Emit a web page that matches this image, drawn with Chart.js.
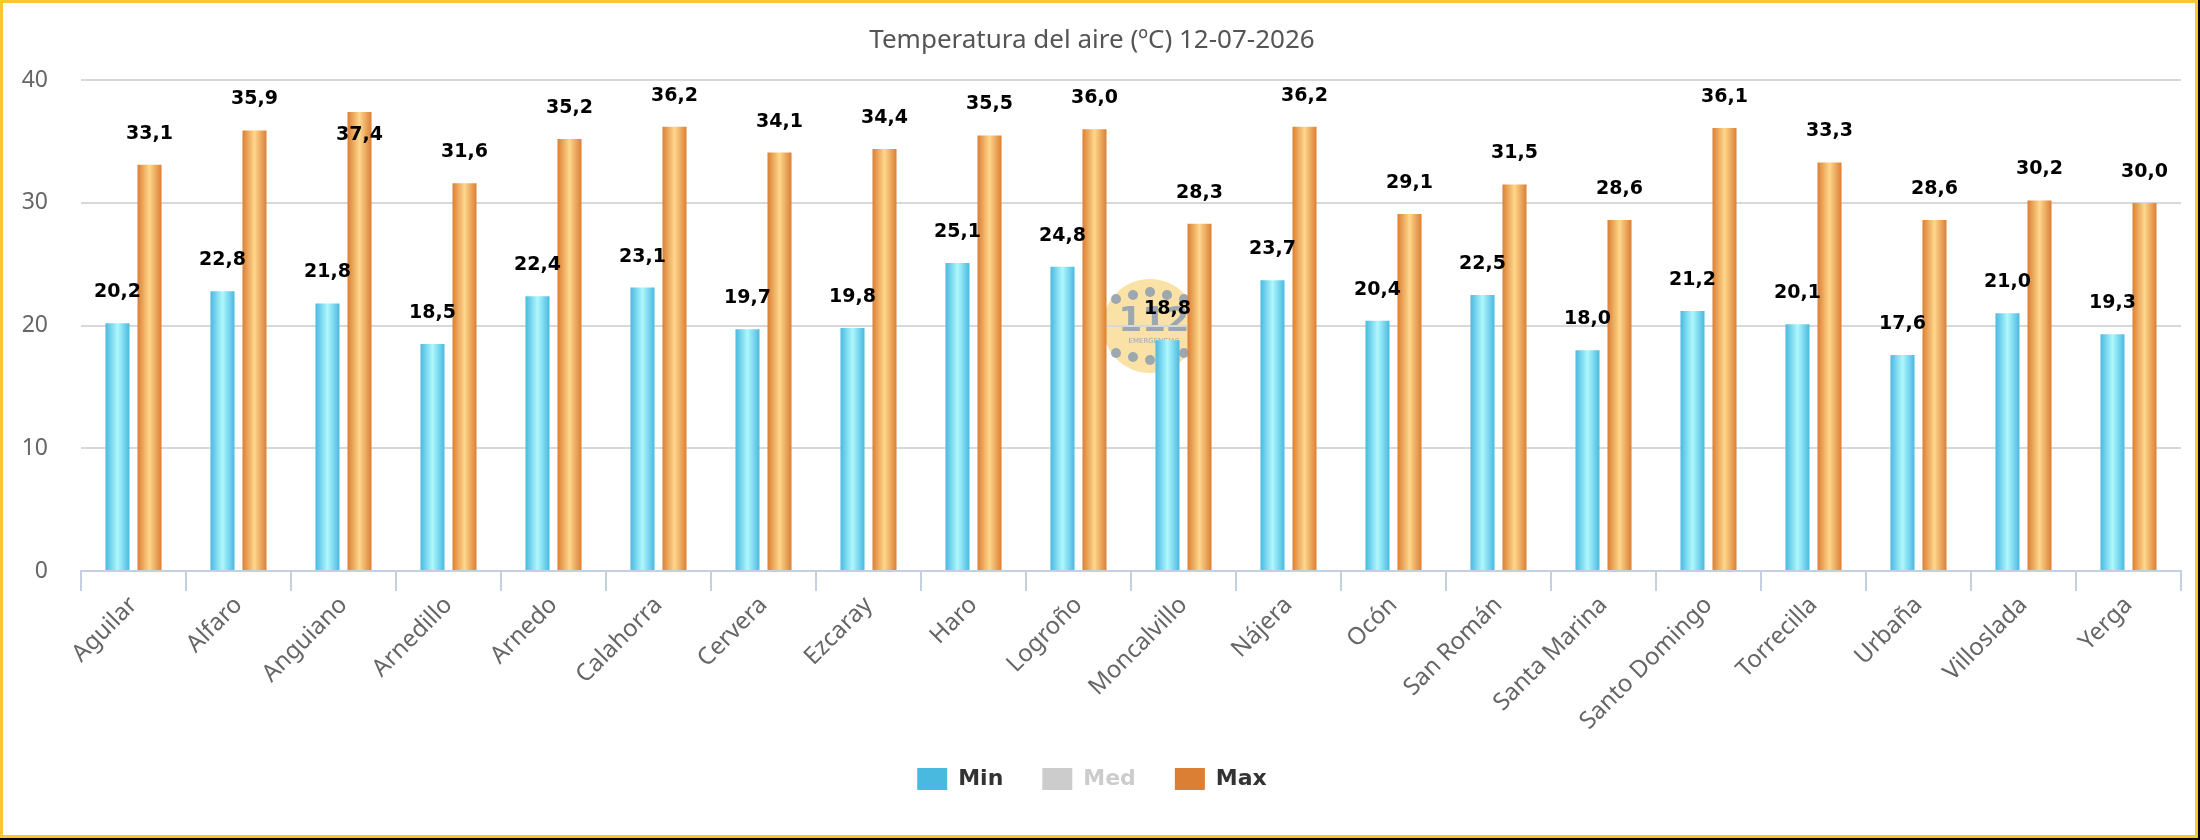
<!DOCTYPE html>
<html>
<head>
<meta charset="utf-8">
<script src="https://cdn.jsdelivr.net/npm/chart.js@4.4.1/dist/chart.umd.min.js"></script>
<style>
  html, body { margin: 0; padding: 0; background: #000; }
  #box { position: absolute; left: 0; top: 0; width: 2198px; height: 838px; box-sizing: border-box; border: 3px solid #fdc530; background: #fff; }
  #box canvas { display: block; }
</style>
</head>
<body>
<div id="box"><canvas id="chart" width="2192" height="832"></canvas></div>
<script>
// data
const categories = ['Aguilar', 'Alfaro', 'Anguiano', 'Arnedillo', 'Arnedo', 'Calahorra', 'Cervera', 'Ezcaray', 'Haro', 'Logroño',
  'Moncalvillo', 'Nájera', 'Ocón', 'San Román', 'Santa Marina', 'Santo Domingo', 'Torrecilla', 'Urbaña', 'Villoslada', 'Yerga'];
const minValues = [20.2, 22.8, 21.8, 18.5, 22.4, 23.1, 19.7, 19.8, 25.1, 24.8, 18.8, 23.7, 20.4, 22.5, 18.0, 21.2, 20.1, 17.6, 21.0, 19.3];
const medValues = []; // series hidden in the picture
const maxValues = [33.1, 35.9, 37.4, 31.6, 35.2, 36.2, 34.1, 34.4, 35.5, 36.0, 28.3, 36.2, 29.1, 31.5, 28.6, 36.1, 33.3, 28.6, 30.2, 30.0];
const seriesNames = ['Min', 'Med', 'Max'];
const yTicks = [0, 10, 20, 30, 40];
const titleText = 'Temperatura del aire (ºC) 12-07-2026';

// colours
const edges = ['#4ab9e0', '#cccccc', '#db7f34'];
const mids = ['#aef8fd', '#cccccc', '#fed78c'];

function barGradient(ctx, left, right, edge, mid) {
  const g = ctx.createLinearGradient(left, 0, right, 0);
  g.addColorStop(0, edge);
  g.addColorStop(0.5, mid);
  g.addColorStop(1, edge);
  return g;
}

const fmt = v => v.toFixed(1).replace('.', ',');

// horizontal shading of each bar
const barShade = {
  id: 'barShade',
  beforeDatasetsDraw(chart) {
    chart.data.datasets.forEach((ds, i) => {
      if (!chart.isDatasetVisible(i)) return;
      chart.getDatasetMeta(i).data.forEach(bar => {
        bar.options.backgroundColor = barGradient(chart.ctx, bar.x - bar.width / 2, bar.x + bar.width / 2, edges[i], mids[i]);
      });
    });
  }
};

// value labels above bars
const valueLabels = {
  id: 'valueLabels',
  afterDatasetsDraw(chart) {
    const ctx = chart.ctx;
    ctx.save();
    ctx.font = 'bold 19px "DejaVu Sans"';
    ctx.fillStyle = '#000';
    ctx.textAlign = 'center';
    ctx.textBaseline = 'middle';
    chart.data.datasets.forEach((ds, i) => {
      if (!chart.isDatasetVisible(i)) return;
      chart.getDatasetMeta(i).data.forEach((bar, j) => {
        let y = bar.y - 31;
        if (y - 9 < chart.chartArea.top) y = bar.y + 23;
        ctx.fillText(fmt(ds.data[j]), bar.x, y);
      });
    });
    ctx.restore();
  }
};

// faint "112" watermark behind the plot
const watermark = {
  id: 'watermark',
  beforeDraw(chart) {
    const ctx = chart.ctx;
    const cx = 1147, cy = 323, r = 47;
    ctx.save();
    ctx.fillStyle = 'rgba(247, 205, 105, 0.6)';
    ctx.beginPath();
    ctx.arc(cx, cy, r, 0, Math.PI * 2);
    ctx.fill();
    ctx.fillStyle = 'rgba(140, 158, 178, 0.85)';
    [-34, -17, 0, 17, 34].forEach((dx, k) => {
      const dy = (k === 0 || k === 4) ? 4 : (k === 2 ? -3 : 0);
      ctx.beginPath(); ctx.arc(cx + dx, cy - 31 + dy, 5, 0, Math.PI * 2); ctx.fill();
      ctx.beginPath(); ctx.arc(cx + dx, cy + 31 - dy, 5, 0, Math.PI * 2); ctx.fill();
    });
    ctx.textAlign = 'center';
    ctx.textBaseline = 'middle';
    ctx.font = 'bold 34px "DejaVu Sans"';
    ctx.fillText('112', cx + 4, cy - 4);
    ctx.font = '7px "DejaVu Sans"';
    ctx.fillText('EMERGENCIAS', cx + 4, cy + 15);
    ctx.restore();
  }
};

const ctxChart = document.getElementById('chart').getContext('2d');
const chart = new Chart(ctxChart, {
  type: 'bar',
  data: {
    labels: categories,
    datasets: [
      { label: seriesNames[0], data: minValues, backgroundColor: c => edges[0], borderWidth: 0,
        categoryPercentage: 0.61, barPercentage: 0.75 },
      { label: seriesNames[1], data: medValues, backgroundColor: c => edges[1], borderWidth: 0, hidden: true,
        categoryPercentage: 0.61, barPercentage: 0.75 },
      { label: seriesNames[2], data: maxValues, backgroundColor: c => edges[2], borderWidth: 0,
        categoryPercentage: 0.61, barPercentage: 0.75 }
    ]
  },
  options: {
    responsive: false,
    animation: false,
    events: [],
    layout: { padding: { top: 0, left: 0, right: 14, bottom: 35 } },
    scales: {
      x: {
        offset: true,
        grid: { offset: true, drawOnChartArea: false, color: '#c2d0e0', lineWidth: 2, tickLength: 20 },
        border: { color: '#c2d0e0', width: 2 },
        ticks: { color: '#666', font: { family: 'Noto Sans', size: 24 }, maxRotation: 45, minRotation: 45, padding: 0, autoSkip: false },
        afterFit(scale) { scale.height = 158; }
      },
      y: {
        min: 0,
        max: 40,
        afterBuildTicks(scale) { scale.ticks = yTicks.map(v => ({ value: v })); },
        ticks: { color: '#666', font: { family: 'Noto Sans', size: 23 }, padding: 33 },
        grid: { color: '#d8d8d8', lineWidth: 2, drawTicks: false },
        border: { display: false },
        afterFit(scale) { scale.width = 78; }
      }
    },
    plugins: {
      title: {
        display: true,
        text: titleText,
        color: '#555',
        font: { family: 'Noto Sans', size: 26, weight: 'normal' },
        padding: { top: 22, bottom: 24 }
      },
      legend: {
        position: 'bottom',
        labels: {
          boxWidth: 30,
          boxHeight: 22,
          padding: 39,
          color: '#333',
          font: { family: 'DejaVu Sans', size: 22, weight: 'bold' },
          generateLabels(chart) {
            const boxes = chart.legend && chart.legend.legendHitBoxes;
            return seriesNames.map((name, i) => {
              let fill = edges[i];
              if (boxes && boxes[i]) fill = barGradient(chart.ctx, boxes[i].left, boxes[i].left + 30, edges[i], mids[i]);
              return { text: name, fillStyle: fill, strokeStyle: 'rgba(0,0,0,0)', lineWidth: 0, hidden: false,
                fontColor: i === 1 ? '#cccccc' : '#333333', datasetIndex: i };
            });
          }
        }
      },
      tooltip: { enabled: false }
    }
  },
  plugins: [watermark, barShade, valueLabels]
});
chart.update();
</script>
</body>
</html>
